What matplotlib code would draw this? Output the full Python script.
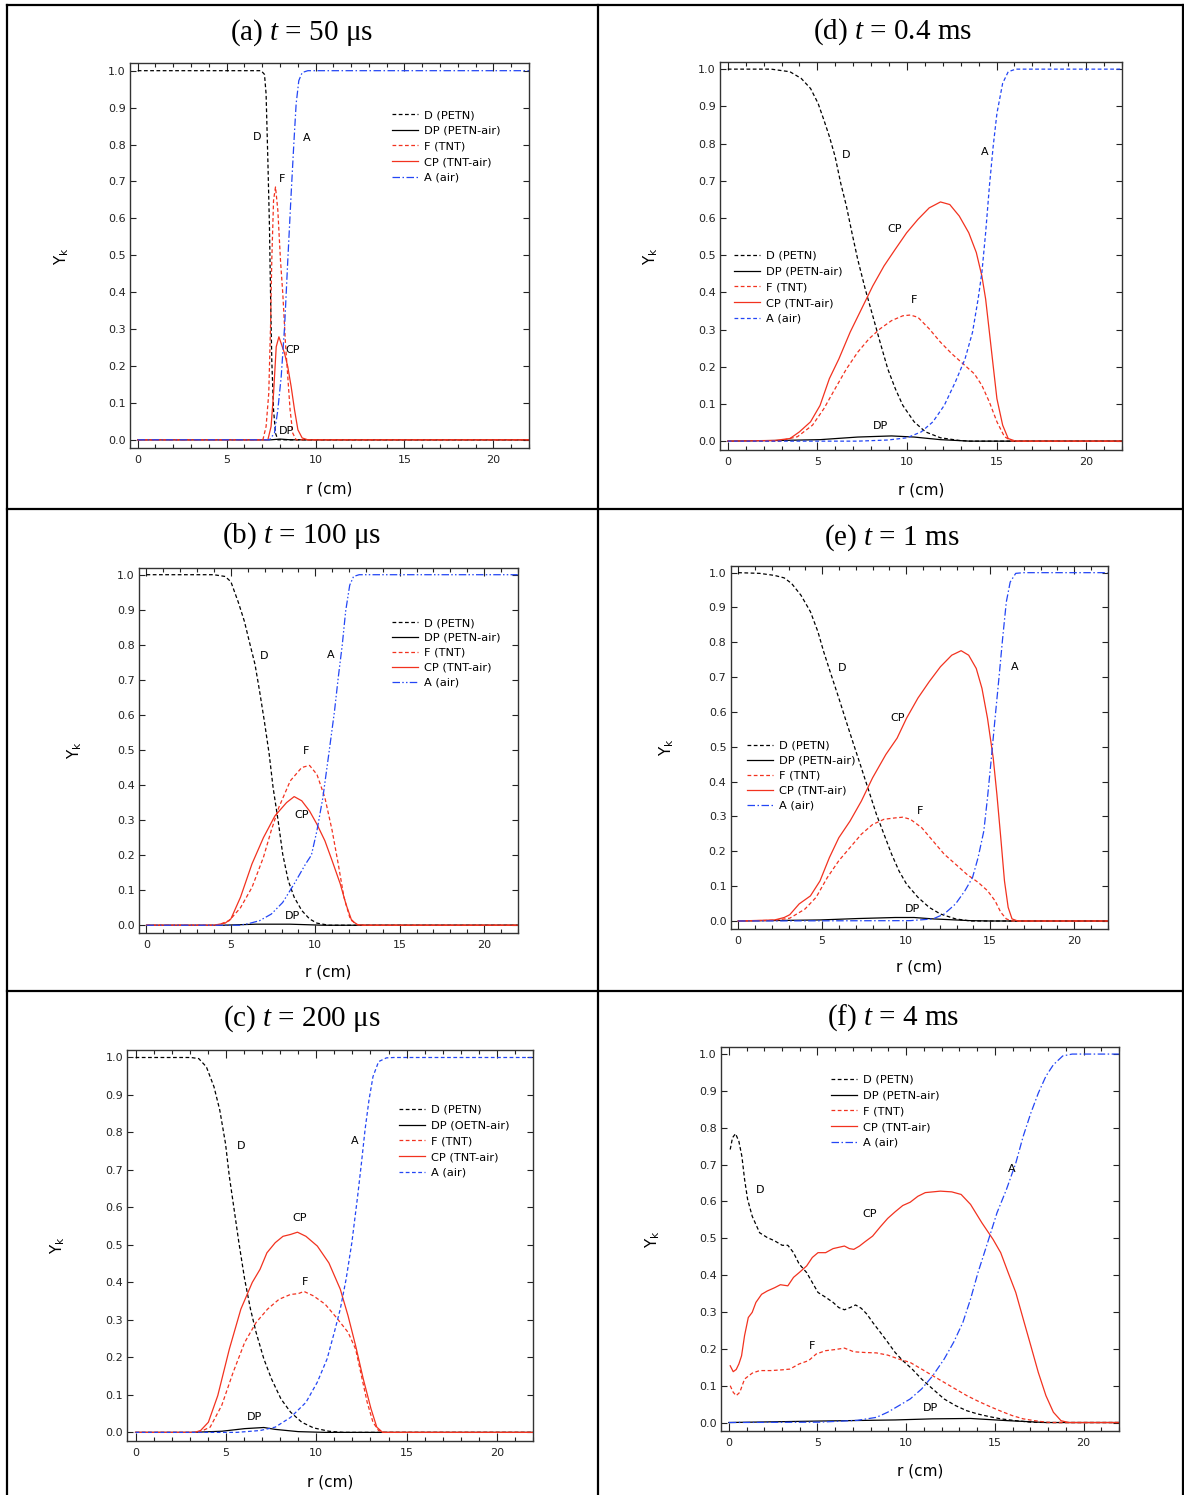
import numpy as np
import matplotlib
matplotlib.use('Agg')
import matplotlib.pyplot as plt
from matplotlib.lines import Line2D
from matplotlib.ticker import MultipleLocator, FormatStrFormatter

plt.rcParams['font.family'] = ['DejaVu Sans']
plt.rcParams['mathtext.fontset'] = 'custom'
plt.rcParams['mathtext.rm'] = 'Liberation Serif'
plt.rcParams['mathtext.it'] = 'Liberation Serif:italic'

W, H = 1184, 1495

# ===== data: r [cm] vs mass fraction Y_k =====
# (a) t = 50 us
a_D_r = [0, 6.94, 7.13, 7.22, 7.32, 7.41, 7.47, 7.54, 7.64, 7.75, 7.88, 22]
a_D_y = [1, 1, 0.99, 0.937, 0.757, 0.577, 0.396, 0.216, 0.081, 0.018, 0, 0]
a_DP_r = [0, 7.5, 8.0, 8.6, 22]
a_DP_y = [0, 0, 0.002, 0, 0]
a_F_r = [0, 7.04, 7.22, 7.37, 7.47, 7.54, 7.64, 7.75, 7.88, 8.03, 8.16, 8.31, 8.44, 8.57, 8.72, 8.91, 22]
a_F_y = [0, 0, 0.036, 0.126, 0.306, 0.486, 0.649, 0.685, 0.622, 0.486, 0.396, 0.261, 0.171, 0.081, 0.018, 0, 0]
a_CP_r = [0, 7.32, 7.5, 7.64, 7.79, 7.94, 8.07, 8.26, 8.44, 8.63, 8.82, 9.01, 9.25, 9.57, 22]
a_CP_y = [0, 0, 0.036, 0.126, 0.252, 0.279, 0.261, 0.234, 0.198, 0.144, 0.081, 0.027, 0.005, 0, 0]
a_A_r = [0, 7.41, 7.69, 7.88, 8.07, 8.26, 8.44, 8.63, 8.78, 8.91, 9.06, 9.25, 9.57, 22]
a_A_y = [0, 0, 0.018, 0.081, 0.171, 0.306, 0.486, 0.667, 0.802, 0.91, 0.973, 0.995, 1, 1]

# (b) t = 100 us
b_D_r = [0, 3.98, 4.66, 5.0, 5.45, 5.8, 6.14, 6.43, 6.7, 6.98, 7.27, 7.5, 7.8, 8.07, 8.4, 8.75, 9.2, 9.66, 10.1, 10.8, 22]
b_D_y = [1, 1, 0.995, 0.98, 0.92, 0.867, 0.8, 0.744, 0.668, 0.583, 0.488, 0.393, 0.298, 0.203, 0.127, 0.08, 0.042, 0.018, 0.006, 0, 0]
b_DP_r = [0, 4.5, 6.5, 8.5, 10.5, 22]
b_DP_y = [0, 0, 0.003, 0.003, 0, 0]
b_F_r = [0, 4.2, 4.9, 5.57, 6.25, 6.93, 7.39, 7.84, 8.52, 9.2, 9.66, 10.1, 10.57, 11.0, 11.36, 11.7, 12.04, 12.4, 12.8, 22]
b_F_y = [0, 0, 0.013, 0.05, 0.108, 0.194, 0.27, 0.336, 0.412, 0.45, 0.456, 0.43, 0.364, 0.27, 0.175, 0.08, 0.023, 0.002, 0, 0]
b_CP_r = [0, 3.98, 4.66, 5.0, 5.57, 6.25, 6.93, 7.61, 8.3, 8.75, 9.2, 9.66, 10.1, 10.57, 11.0, 11.48, 11.82, 12.16, 12.5, 12.84, 22]
b_CP_y = [0, 0, 0.006, 0.018, 0.08, 0.175, 0.25, 0.312, 0.35, 0.367, 0.355, 0.326, 0.288, 0.241, 0.184, 0.118, 0.06, 0.013, 0.002, 0, 0]
b_A_r = [0, 5.5, 6.0, 6.7, 7.4, 8.07, 8.75, 9.43, 9.77, 10.1, 10.45, 10.8, 11.14, 11.36, 11.6, 11.8, 12.04, 12.27, 12.6, 22]
b_A_y = [0, 0, 0.004, 0.013, 0.032, 0.065, 0.118, 0.175, 0.2, 0.27, 0.364, 0.488, 0.611, 0.706, 0.8, 0.896, 0.97, 0.995, 1, 1]

# (c) t = 200 us
c_D_r = [0, 3.07, 3.5, 3.92, 4.34, 4.66, 4.98, 5.19, 5.44, 5.72, 6.04, 6.36, 6.67, 7.1, 7.52, 8.05, 8.58, 9.2, 9.85, 10.7, 11.5, 22]
c_D_y = [1, 1, 0.997, 0.975, 0.922, 0.86, 0.77, 0.683, 0.6, 0.506, 0.408, 0.329, 0.267, 0.196, 0.143, 0.089, 0.054, 0.027, 0.012, 0.003, 0, 0]
c_DP_r = [0, 3.07, 4.77, 6.04, 7.1, 7.73, 9.0, 10.5, 22]
c_DP_y = [0, 0, 0.003, 0.01, 0.013, 0.008, 0.002, 0, 0]
c_F_r = [0, 3.5, 4.13, 4.77, 5.4, 6.04, 6.67, 7.31, 7.94, 8.58, 9.0, 9.32, 9.85, 10.49, 11.12, 11.76, 12.18, 12.5, 12.82, 13.14, 13.45, 13.77, 22]
c_F_y = [0, 0, 0.014, 0.072, 0.16, 0.24, 0.293, 0.329, 0.355, 0.368, 0.37, 0.376, 0.364, 0.342, 0.306, 0.267, 0.222, 0.151, 0.08, 0.027, 0.005, 0, 0]
c_CP_r = [0, 3.28, 3.6, 4.03, 4.55, 5.19, 5.83, 6.46, 6.89, 7.27, 7.73, 8.16, 8.58, 8.96, 9.43, 10.06, 10.7, 11.33, 11.76, 12.18, 12.6, 13.03, 13.35, 13.67, 22]
c_CP_y = [0, 0, 0.005, 0.027, 0.098, 0.222, 0.329, 0.4, 0.435, 0.479, 0.506, 0.523, 0.528, 0.534, 0.523, 0.497, 0.452, 0.382, 0.311, 0.231, 0.143, 0.063, 0.014, 0, 0]
c_A_r = [0, 5.6, 6.9, 7.73, 8.58, 9.43, 10.06, 10.6, 11.0, 11.33, 11.65, 11.97, 12.29, 12.5, 12.7, 12.92, 13.14, 13.45, 13.88, 14.3, 22]
c_A_y = [0, 0, 0.005, 0.014, 0.04, 0.08, 0.134, 0.196, 0.267, 0.329, 0.408, 0.506, 0.63, 0.718, 0.807, 0.887, 0.949, 0.989, 0.999, 1, 1]

# (d) t = 0.4 ms
d_D_r = [0, 2.42, 3.47, 4.1, 4.62, 5.04, 5.36, 5.67, 5.99, 6.3, 6.62, 6.93, 7.25, 7.67, 8.09, 8.5, 8.93, 9.35, 9.77, 10.4, 11.03, 11.87, 12.9, 13.5, 22]
d_D_y = [1, 1, 0.993, 0.975, 0.948, 0.908, 0.864, 0.819, 0.765, 0.694, 0.632, 0.56, 0.489, 0.409, 0.337, 0.266, 0.194, 0.141, 0.096, 0.052, 0.025, 0.009, 0.002, 0, 0]
d_DP_r = [0, 3.05, 5.15, 7.25, 9.14, 10.4, 11.87, 13.5, 22]
d_DP_y = [0, 0.002, 0.004, 0.011, 0.014, 0.011, 0.004, 0, 0]
d_F_r = [0, 2.84, 3.89, 4.73, 5.36, 5.99, 6.62, 7.25, 7.88, 8.5, 9.14, 9.77, 10.19, 10.61, 11.24, 11.87, 12.5, 13.13, 13.76, 14.18, 14.6, 15.02, 15.44, 15.86, 22]
d_F_y = [0, 0, 0.012, 0.043, 0.087, 0.141, 0.194, 0.239, 0.275, 0.302, 0.324, 0.337, 0.339, 0.333, 0.302, 0.266, 0.235, 0.208, 0.181, 0.15, 0.105, 0.052, 0.012, 0, 0]
d_CP_r = [0, 2.63, 3.47, 4.0, 4.62, 5.15, 5.67, 6.2, 6.83, 7.46, 8.09, 8.72, 9.35, 9.98, 10.61, 11.24, 11.87, 12.39, 12.92, 13.45, 13.87, 14.18, 14.39, 14.6, 14.81, 15.02, 15.34, 15.65, 16.07, 22]
d_CP_y = [0, 0.002, 0.007, 0.025, 0.052, 0.096, 0.168, 0.221, 0.293, 0.355, 0.417, 0.471, 0.516, 0.56, 0.596, 0.627, 0.643, 0.636, 0.605, 0.56, 0.507, 0.444, 0.382, 0.293, 0.203, 0.114, 0.043, 0.007, 0, 0]
d_A_r = [0, 7.25, 8.93, 10.0, 10.8, 11.45, 12.08, 12.7, 13.24, 13.66, 13.97, 14.18, 14.39, 14.6, 14.81, 15.02, 15.34, 15.65, 16.07, 22]
d_A_y = [0, 0, 0.003, 0.009, 0.025, 0.052, 0.096, 0.159, 0.221, 0.293, 0.382, 0.453, 0.56, 0.685, 0.792, 0.881, 0.962, 0.993, 1, 1]

# (e) t = 1 ms
e_D_r = [0, 1.28, 2.17, 2.74, 3.18, 3.74, 4.3, 4.75, 5.09, 5.54, 5.99, 6.43, 6.88, 7.33, 7.78, 8.23, 8.68, 9.13, 9.57, 10.02, 10.7, 11.37, 12.04, 12.94, 13.83, 22]
e_D_y = [1, 0.998, 0.992, 0.985, 0.969, 0.935, 0.888, 0.83, 0.773, 0.706, 0.64, 0.573, 0.506, 0.44, 0.373, 0.306, 0.249, 0.192, 0.144, 0.106, 0.068, 0.039, 0.02, 0.006, 0, 0]
e_DP_r = [0, 4.87, 7.1, 9.35, 10.47, 11.6, 13.83, 14.96, 22]
e_DP_y = [0, 0.003, 0.007, 0.01, 0.01, 0.006, 0.001, 0, 0]
e_F_r = [0, 2.17, 3.07, 3.97, 4.64, 5.31, 5.99, 6.66, 7.33, 8.0, 8.68, 9.35, 9.8, 10.25, 10.92, 11.59, 12.26, 12.94, 13.61, 14.28, 14.84, 15.29, 15.63, 15.96, 16.3, 22]
e_F_y = [0, 0.002, 0.008, 0.034, 0.068, 0.125, 0.173, 0.211, 0.249, 0.277, 0.292, 0.296, 0.298, 0.292, 0.268, 0.23, 0.192, 0.163, 0.134, 0.111, 0.087, 0.058, 0.025, 0.006, 0, 0]
e_CP_r = [0, 2.17, 2.74, 3.07, 3.63, 4.3, 4.87, 5.43, 5.99, 6.66, 7.33, 8.0, 8.79, 9.46, 10.02, 10.7, 11.37, 12.04, 12.71, 13.27, 13.72, 14.17, 14.51, 14.84, 15.18, 15.4, 15.63, 15.85, 16.07, 16.3, 16.64, 22]
e_CP_y = [0, 0.003, 0.01, 0.018, 0.049, 0.072, 0.115, 0.182, 0.239, 0.287, 0.344, 0.411, 0.478, 0.525, 0.582, 0.64, 0.687, 0.73, 0.763, 0.776, 0.763, 0.725, 0.668, 0.582, 0.468, 0.363, 0.239, 0.115, 0.039, 0.006, 0, 0]
e_A_r = [0, 10.25, 11.6, 12.26, 12.94, 13.5, 13.95, 14.28, 14.62, 14.84, 15.07, 15.29, 15.52, 15.74, 15.96, 16.19, 16.52, 16.97, 22]
e_A_y = [0, 0.001, 0.006, 0.02, 0.049, 0.087, 0.125, 0.182, 0.258, 0.354, 0.468, 0.582, 0.697, 0.811, 0.916, 0.973, 0.998, 1, 1]

# (f) t = 4 ms
f_D_r = [0.08, 0.21, 0.38, 0.57, 0.74, 0.89, 1.06, 1.32, 1.74, 2.17, 2.59, 3.01, 3.33, 3.65, 3.97, 4.39, 4.71, 5.03, 5.46, 5.88, 6.2, 6.52, 6.84, 7.15, 7.47, 7.79, 8.11, 8.54, 8.96, 9.38, 9.81, 10.34, 10.87, 11.5, 12.14, 12.78, 13.42, 14.05, 14.69, 15.33, 16.18, 17.03, 17.9, 22]
f_D_y = [0.741, 0.773, 0.784, 0.763, 0.722, 0.66, 0.606, 0.56, 0.515, 0.502, 0.493, 0.481, 0.481, 0.461, 0.43, 0.407, 0.38, 0.353, 0.34, 0.326, 0.312, 0.306, 0.312, 0.319, 0.31, 0.294, 0.272, 0.245, 0.218, 0.19, 0.168, 0.145, 0.118, 0.091, 0.064, 0.046, 0.032, 0.023, 0.016, 0.01, 0.005, 0.001, 0, 0]
f_DP_r = [0, 5.14, 9.38, 11.5, 13.63, 14.69, 15.75, 17.88, 22]
f_DP_y = [0, 0.004, 0.007, 0.01, 0.011, 0.008, 0.005, 0, 0]
f_F_r = [0.08, 0.25, 0.42, 0.62, 0.89, 1.32, 1.74, 2.38, 3.01, 3.44, 3.97, 4.5, 4.93, 5.46, 5.99, 6.52, 7.05, 7.69, 8.32, 8.96, 9.6, 10.23, 10.87, 11.5, 12.14, 12.78, 13.42, 14.05, 14.69, 15.33, 15.97, 16.6, 17.24, 17.88, 18.3, 22]
f_F_y = [0.1, 0.082, 0.073, 0.082, 0.118, 0.134, 0.141, 0.141, 0.143, 0.145, 0.159, 0.168, 0.186, 0.195, 0.198, 0.202, 0.192, 0.19, 0.189, 0.183, 0.172, 0.163, 0.145, 0.127, 0.109, 0.091, 0.073, 0.058, 0.044, 0.031, 0.019, 0.01, 0.005, 0.001, 0, 0]
f_CP_r = [0.08, 0.25, 0.42, 0.57, 0.72, 0.89, 1.1, 1.32, 1.53, 1.85, 2.17, 2.59, 2.91, 3.33, 3.65, 3.97, 4.39, 4.71, 5.03, 5.46, 5.88, 6.52, 6.8, 7.05, 7.37, 7.69, 8.11, 8.54, 8.96, 9.38, 9.81, 10.23, 10.66, 11.08, 11.93, 12.57, 13.1, 13.63, 14.27, 14.9, 15.33, 15.75, 16.18, 16.6, 17.03, 17.45, 17.88, 18.3, 18.73, 19.15, 22]
f_CP_y = [0.154, 0.138, 0.144, 0.159, 0.181, 0.236, 0.285, 0.299, 0.326, 0.348, 0.357, 0.366, 0.374, 0.371, 0.394, 0.407, 0.425, 0.448, 0.461, 0.461, 0.472, 0.479, 0.472, 0.47, 0.479, 0.491, 0.506, 0.531, 0.554, 0.572, 0.589, 0.598, 0.614, 0.624, 0.628, 0.626, 0.619, 0.592, 0.542, 0.497, 0.461, 0.407, 0.353, 0.281, 0.208, 0.136, 0.073, 0.028, 0.005, 0, 0]
f_A_r = [0, 5.14, 7.26, 8.32, 8.96, 9.6, 10.23, 10.87, 11.5, 12.14, 12.68, 13.2, 13.63, 14.05, 14.59, 15.12, 15.65, 16.18, 16.6, 17.03, 17.45, 17.88, 18.3, 18.83, 19.36, 22]
f_A_y = [0, 0.001, 0.006, 0.014, 0.028, 0.046, 0.064, 0.091, 0.127, 0.172, 0.218, 0.272, 0.335, 0.407, 0.488, 0.569, 0.632, 0.704, 0.777, 0.84, 0.894, 0.94, 0.971, 0.995, 1, 1]

# panel titles and legend labels
titles = ['(a) $t$ = 50 μs', '(b) $t$ = 100 μs', '(c) $t$ = 200 μs',
          '(d) $t$ = 0.4 ms', '(e) $t$ = 1 ms', '(f) $t$ = 4 ms']
legend_std = ['D (PETN)', 'DP (PETN-air)', 'F (TNT)', 'CP (TNT-air)', 'A (air)']
legend_c = ['D (PETN)', 'DP (OETN-air)', 'F (TNT)', 'CP (TNT-air)', 'A (air)']

# label positions (r, Y) for D, A, F, CP, DP
a_tags = [(6.7, 0.82), (9.51, 0.817), (8.12, 0.707), (8.72, 0.243), (8.35, 0.023)]
b_tags = [(6.98, 0.767), (10.93, 0.771), (9.43, 0.497), (9.2, 0.315), (8.68, 0.027)]
c_tags = [(5.83, 0.765), (12.14, 0.778), (9.36, 0.401), (9.1, 0.572), (6.57, 0.041)]
d_tags = [(6.62, 0.769), (14.33, 0.778), (10.4, 0.38), (9.29, 0.569), (8.55, 0.041)]
e_tags = [(6.17, 0.727), (16.46, 0.728), (10.83, 0.316), (9.48, 0.584), (10.36, 0.035)]
f_tags = [(1.78, 0.631), (15.94, 0.687), (4.67, 0.209), (7.94, 0.567), (11.4, 0.039)]

RED = '#f2321f'
BLUE = '#2346f5'
SHORT_DASH = (0, (3, 2))
DASH_DOT = (0, (6, 2, 1.2, 2))
DASH_DOT_DOT = (0, (6, 1.8, 1.2, 1.8, 1.2, 1.8))

fig = plt.figure(figsize=(W / 100, H / 100), dpi=100)


def px_axes(l, t, r, b):
    return fig.add_axes([l / W, 1 - b / H, (r - l) / W, (b - t) / H])


def fig_xy(x, y):
    return (x / W, 1 - y / H)


panels = [
    # box (l, t, r, b), title centre, legend anchor + spacing, A style, data, tags, legend labels
    dict(box=(129.7, 63.3, 528.9, 448.3), tc=(302, 33), leg=(392, 110), sp=0.5, a_ls=DASH_DOT,
         data=(a_D_r, a_D_y, a_DP_r, a_DP_y, a_F_r, a_F_y, a_CP_r, a_CP_y, a_A_r, a_A_y), tags=a_tags, lab=legend_std),
    dict(box=(138.9, 567.7, 517.8, 933.3), tc=(302, 536), leg=(392, 618), sp=0.43, a_ls=DASH_DOT_DOT,
         data=(b_D_r, b_D_y, b_DP_r, b_DP_y, b_F_r, b_F_y, b_CP_r, b_CP_y, b_A_r, b_A_y), tags=b_tags, lab=legend_std),
    dict(box=(127.4, 1050, 533.1, 1441), tc=(302, 1019), leg=(399, 1105), sp=0.5, a_ls=SHORT_DASH,
         data=(c_D_r, c_D_y, c_DP_r, c_DP_y, c_F_r, c_F_y, c_CP_r, c_CP_y, c_A_r, c_A_y), tags=c_tags, lab=legend_c),
    dict(box=(719.7, 61.7, 1122, 449.7), tc=(893, 32), leg=(734, 251), sp=0.5, a_ls=SHORT_DASH,
         data=(d_D_r, d_D_y, d_DP_r, d_DP_y, d_F_r, d_F_y, d_CP_r, d_CP_y, d_A_r, d_A_y), tags=d_tags, lab=legend_std),
    dict(box=(730.6, 565.7, 1107.8, 929), tc=(892, 538), leg=(747, 741), sp=0.43, a_ls=DASH_DOT,
         data=(e_D_r, e_D_y, e_DP_r, e_DP_y, e_F_r, e_F_y, e_CP_r, e_CP_y, e_A_r, e_A_y), tags=e_tags, lab=legend_std),
    dict(box=(720.8, 1046.7, 1119, 1431), tc=(893, 1018), leg=(831, 1075), sp=0.5, a_ls=DASH_DOT,
         data=(f_D_r, f_D_y, f_DP_r, f_DP_y, f_F_r, f_F_y, f_CP_r, f_CP_y, f_A_r, f_A_y), tags=f_tags, lab=legend_std),
]

for p, title in zip(panels, titles):
    ax = px_axes(*p['box'])
    Dr, Dy, DPr, DPy, Fr, Fy, CPr, CPy, Ar, Ay = p['data']
    lw = 0.9
    h1, = ax.plot(Dr, Dy, color='black', ls=SHORT_DASH, lw=lw)
    h2, = ax.plot(DPr, DPy, color='black', ls='-', lw=lw)
    h3, = ax.plot(Fr, Fy, color=RED, ls=SHORT_DASH, lw=lw)
    h4, = ax.plot(CPr, CPy, color=RED, ls='-', lw=lw)
    h5, = ax.plot(Ar, Ay, color=BLUE, ls=p['a_ls'], lw=lw)

    ax.set_xlim(-0.45, 22)
    ax.set_ylim(-0.023, 1.02)
    ax.xaxis.set_major_locator(MultipleLocator(5))
    ax.xaxis.set_minor_locator(MultipleLocator(1))
    ax.yaxis.set_major_locator(MultipleLocator(0.1))
    ax.yaxis.set_major_formatter(FormatStrFormatter('%.1f'))
    ax.tick_params(which='both', direction='in', top=True, right=True, width=0.8, labelsize=8, colors='#222222')
    ax.tick_params(axis='x', which='major', length=6, pad=5)
    ax.tick_params(axis='x', which='minor', length=3)
    ax.tick_params(axis='y', which='major', length=4.5, pad=3)
    for s in ax.spines.values():
        s.set_linewidth(1.0)
        s.set_color('#333333')

    ax.set_xlabel('r (cm)', fontsize=11, va='center')
    ax.xaxis.set_label_coords(0.5, -0.105)
    ax.set_ylabel('Y$_\\mathregular{k}$', fontsize=11, va='center')
    ax.yaxis.set_label_coords(-0.17, 0.5)

    for name, (tx, ty) in zip(['D', 'A', 'F', 'CP', 'DP'], p['tags']):
        ax.text(tx, ty, name, fontsize=8, ha='center', va='center')

    lx, ly = fig_xy(*p['leg'])
    ax.legend([h1, h2, h3, h4, h5], p['lab'], loc='upper left', bbox_to_anchor=(lx, ly),
              bbox_transform=fig.transFigure, frameon=False, fontsize=8.2, borderpad=0,
              borderaxespad=0, handlelength=2.3, handletextpad=0.5, labelspacing=p['sp'])

    cx, cy = fig_xy(*p['tc'])
    fig.text(cx, cy, title, fontsize=21, family='Liberation Serif', ha='center', va='center')

# table frame around the panels
frame = [((7, 5), (1183, 5)), ((7, 509), (1183, 509)), ((7, 991), (1183, 991)),
         ((7, 5), (7, 1495)), ((598, 5), (598, 1495)), ((1183, 5), (1183, 1495))]
for (x0, y0), (x1, y1) in frame:
    p0 = fig_xy(x0, y0)
    p1 = fig_xy(x1, y1)
    fig.add_artist(Line2D([p0[0], p1[0]], [p0[1], p1[1]], transform=fig.transFigure, color='black', lw=1.6))

fig.savefig('out.png', dpi=100)
